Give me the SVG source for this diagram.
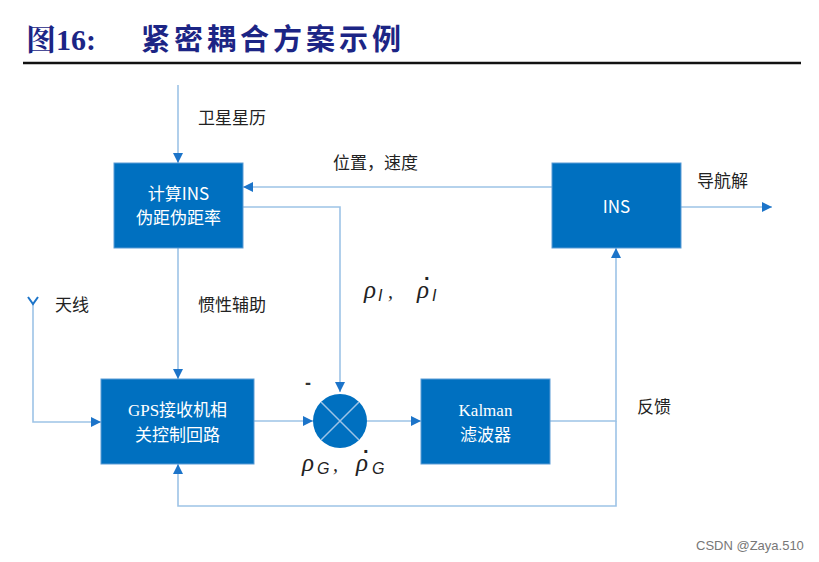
<svg xmlns="http://www.w3.org/2000/svg" width="819" height="562" viewBox="0 0 819 562">
<defs>
<marker id="ah" viewBox="0 0 10 10" refX="10" refY="5" markerWidth="10" markerHeight="10" markerUnits="userSpaceOnUse" orient="auto">
<path d="M0,0 L10,5 L0,10 Z" fill="#1C74C9"/>
</marker>
<style>
.ln{fill:none;stroke:#9DC3E6;stroke-width:1.6}
.box{fill:#0070C0;stroke:#5B9BD5;stroke-width:1}
.bt{font-family:"Noto Sans CJK SC","Noto Sans",sans-serif;font-size:17px;fill:#fff;text-anchor:middle}
.lb{font-family:"Noto Sans CJK SC","Noto Sans",sans-serif;font-size:17px;fill:#222}
.ser{font-family:"Liberation Serif",serif}
.rho{font-family:"Liberation Serif",serif;font-style:italic;font-size:25px;fill:#222}
.sub{font-family:"Liberation Sans",sans-serif;font-style:italic;font-size:16px}
.cm{font-size:20px}
.dot{font-family:"Liberation Sans",sans-serif;font-style:normal;font-size:20px;font-weight:bold}
</style>
</defs>
<rect width="819" height="562" fill="#fff"/>
<g id="title">
<text x="26" y="50" font-family="Liberation Serif,'Noto Serif CJK SC','Noto Sans CJK SC',serif" font-weight="bold" font-size="30" fill="#1C2585">图16:</text>
<text x="141" y="50" font-family="'Noto Sans CJK SC',serif" font-weight="bold" font-size="29" fill="#1C2585" letter-spacing="4">紧密耦合方案示例</text>
<line x1="23" y1="63" x2="801" y2="63" stroke="#111" stroke-width="2.5"/>
</g>
<g id="connectors">
<path class="ln" d="M178,85 V163" marker-end="url(#ah)"/>
<path class="ln" d="M553,187 H243" marker-end="url(#ah)"/>
<path class="ln" d="M243,207 H340 V392" marker-end="url(#ah)"/>
<path class="ln" d="M681,207 H772" marker-end="url(#ah)"/>
<path class="ln" d="M178,248 V379" marker-end="url(#ah)"/>
<path class="ln" d="M33,303 V422 H101" marker-end="url(#ah)"/>
<path class="ln" d="M254,421 H313" marker-end="url(#ah)"/>
<path class="ln" d="M367,421 H421" marker-end="url(#ah)"/>
<path class="ln" d="M550,421 H616 V248" marker-end="url(#ah)"/>
<path class="ln" d="M616,421 V506 H178 V464" marker-end="url(#ah)"/>
<path d="M28,297 L33,304 L38,297" fill="none" stroke="#1C74C9" stroke-width="2"/>
</g>
<g id="calc-ins">
<rect class="box" x="114" y="163" width="129" height="85"/>
<text class="bt" x="178.5" y="200">计算INS</text>
<text class="bt" x="178.5" y="224">伪距伪距率</text>
</g>
<g id="ins">
<rect class="box" x="552" y="163" width="129" height="85"/>
<text class="bt" x="616.5" y="213">INS</text>
</g>
<g id="gps">
<rect class="box" x="101" y="379" width="153" height="85"/>
<text class="bt" x="177.5" y="416"><tspan class="ser">GPS</tspan>接收机相</text>
<text class="bt" x="177.5" y="441">关控制回路</text>
</g>
<g id="sum">
<circle cx="340" cy="421" r="27" fill="#0070C0"/>
<path d="M321,402 L359,440 M359,402 L321,440" stroke="#9DC3E6" stroke-width="1.5"/>
</g>
<g id="kalman">
<rect class="box" x="421" y="379" width="129" height="85"/>
<text class="bt" x="485.5" y="416"><tspan class="ser">Kalman</tspan></text>
<text class="bt" x="485.5" y="441">滤波器</text>
</g>
<g id="labels">
<text class="lb" x="198" y="124">卫星星历</text>
<text class="lb" x="333" y="169">位置，速度</text>
<text class="lb" x="697" y="187">导航解</text>
<text class="lb" x="55" y="311">天线</text>
<text class="lb" x="198" y="311">惯性辅助</text>
<text class="lb" x="637" y="413">反馈</text>
<text x="305" y="389" font-family="Liberation Sans,sans-serif" font-size="18" font-weight="bold" fill="#333">-</text>
<text class="rho" x="364" y="298">ρ<tspan class="sub" x="378" y="301">I</tspan><tspan class="cm" x="388" y="298">,</tspan><tspan x="417" y="298">ρ</tspan><tspan class="dot" x="424" y="285">·</tspan><tspan class="sub" x="432" y="301">I</tspan></text>
<text class="rho" x="302" y="471">ρ<tspan class="sub" x="317" y="474">G</tspan><tspan class="cm" x="333" y="471">,</tspan><tspan x="356" y="471">ρ</tspan><tspan class="dot" x="363" y="458">·</tspan><tspan class="sub" x="372" y="474">G</tspan></text>
<text x="696" y="550" font-family="Liberation Sans,sans-serif" font-size="13" fill="#777">CSDN @Zaya.510</text>
</g>
</svg>
